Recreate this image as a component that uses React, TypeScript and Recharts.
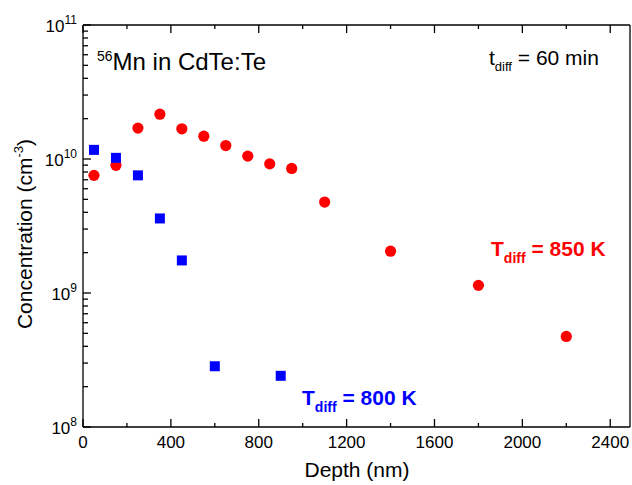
import React from 'react'
import { ScatterChart, Scatter, XAxis, YAxis } from 'recharts'

// depth (nm) and concentration (cm^-3)
const DEPTH_850 = [50, 150, 250, 350, 450, 550, 650, 750, 850, 950, 1100, 1400, 1800, 2200]
const CONC_850 = [7.55e9, 8.97e9, 1.7e10, 2.16e10, 1.68e10, 1.48e10, 1.26e10, 1.05e10, 9.2e9, 8.5e9, 4.77e9, 2.05e9, 1.14e9, 4.74e8]

const DEPTH_800 = [50, 150, 250, 350, 450, 600, 900]
const CONC_800 = [1.17e10, 1.02e10, 7.55e9, 3.6e9, 1.75e9, 2.84e8, 2.41e8]

const X_TICKS = [0, 200, 400, 600, 800, 1000, 1200, 1400, 1600, 1800, 2000, 2200, 2400]
const DECADES = [8, 9, 10]
const Y_TICKS = [
  ...DECADES.flatMap((d) => [1, 2, 3, 4, 5, 6, 7, 8, 9].map((m) => m * Math.pow(10, d))),
  1e11,
]

const FONT = '"Liberation Sans", Arial, Helvetica, sans-serif'
const RED = '#ff0000'
const BLUE = '#0000ff'

const data850 = DEPTH_850.map((x, i) => ({ x, y: CONC_850[i] }))
const data800 = DEPTH_800.map((x, i) => ({ x, y: CONC_800[i] }))

const isDecade = (v: number) => {
  const l = Math.log10(v)
  return Math.abs(l - Math.round(l)) < 1e-6
}

const BottomTick = (props: any) => {
  const { x, y, payload } = props
  const major = payload.value % 400 === 0
  return (
    <g>
      <line x1={x} x2={x} y1={y} y2={y - (major ? 8 : 4)} stroke="#000" strokeWidth={1.3} />
      {major && (
        <text x={x} y={y + 21} textAnchor="middle" fontSize={17} fontFamily={FONT} fill="#000">
          {payload.value}
        </text>
      )}
    </g>
  )
}

const TopTick = (props: any) => {
  const { x, y, payload } = props
  const major = payload.value % 400 === 0
  return <line x1={x} x2={x} y1={y} y2={y + (major ? 8 : 4)} stroke="#000" strokeWidth={1.3} />
}

const LeftTick = (props: any) => {
  const { x, y, payload } = props
  const major = isDecade(payload.value)
  const exp = Math.round(Math.log10(payload.value))
  return (
    <g>
      <line x1={x} x2={x + (major ? 8 : 5)} y1={y} y2={y} stroke="#000" strokeWidth={1.3} />
      {major && (
        <text x={x - 6} y={y + 7} textAnchor="end" fontSize={17} fontFamily={FONT} fill="#000">
          10
          <tspan dy={-8} fontSize={12}>
            {exp}
          </tspan>
        </text>
      )}
    </g>
  )
}

const Dot = (props: any) => <circle cx={props.cx} cy={props.cy} r={5.6} fill={RED} />
const Square = (props: any) => (
  <rect x={props.cx - 5} y={props.cy - 5} width={10} height={10} fill={BLUE} />
)

export default function App() {
  return (
    <div style={{ position: 'absolute', left: 0, top: 0, width: 632, height: 485, background: '#fff' }}>
      <ScatterChart width={632} height={485} margin={{ top: 15, right: 0, bottom: 28, left: 23 }}>
        <XAxis
          type="number"
          dataKey="x"
          domain={[0, 2490]}
          ticks={X_TICKS}
          interval={0}
          allowDataOverflow
          tickSize={0}
          tickMargin={0}
          tick={<BottomTick />}
          axisLine={{ stroke: '#000', strokeWidth: 1.3 }}
          height={30}
        />
        <XAxis
          xAxisId="top"
          orientation="top"
          type="number"
          dataKey="x"
          domain={[0, 2490]}
          ticks={X_TICKS}
          interval={0}
          allowDataOverflow
          tickSize={0}
          tickMargin={0}
          tick={<TopTick />}
          axisLine={{ stroke: '#000', strokeWidth: 1.3 }}
          height={10}
        />
        <YAxis
          type="number"
          dataKey="y"
          scale="log"
          domain={[1e8, 1e11]}
          ticks={Y_TICKS}
          interval={0}
          allowDataOverflow
          tickSize={0}
          tickMargin={0}
          tick={<LeftTick />}
          axisLine={{ stroke: '#000', strokeWidth: 1.3 }}
          width={60}
        />
        <YAxis
          yAxisId="right"
          orientation="right"
          type="number"
          domain={[0, 1]}
          tick={false}
          tickLine={false}
          axisLine={{ stroke: '#000', strokeWidth: 1.3 }}
          width={2}
        />
        <Scatter data={data850} fill={RED} shape={<Dot />} isAnimationActive={false} />
        <Scatter data={data800} fill={BLUE} shape={<Square />} isAnimationActive={false} />
      </ScatterChart>
      <svg
        width={632}
        height={485}
        style={{ position: 'absolute', left: 0, top: 0, pointerEvents: 'none' }}
        fontFamily={FONT}
      >
        <text x={357} y={477} textAnchor="middle" fontSize={21} fill="#000">
          Depth (nm)
        </text>
        <text transform="translate(32,234) rotate(-90)" textAnchor="middle" fontSize={21} fill="#000">
          Concentration (cm
          <tspan dy={-9} fontSize={13}>
            -3
          </tspan>
          <tspan dy={9}>)</tspan>
        </text>
        <text x={97} y={70} fontSize={24} fill="#000">
          <tspan dy={-9} fontSize={14}>
            56
          </tspan>
          <tspan dy={9}>Mn in CdTe:Te</tspan>
        </text>
        <text x={489} y={65} fontSize={21} fill="#000">
          t
          <tspan dy={6} fontSize={13}>
            diff
          </tspan>
          <tspan dy={-6}> = 60 min</tspan>
        </text>
        <text x={491} y={256} fontSize={21} fontWeight="bold" fill={RED}>
          T
          <tspan dy={7} fontSize={14}>
            diff
          </tspan>
          <tspan dy={-7}> = 850 K</tspan>
        </text>
        <text x={302} y={405} fontSize={21} fontWeight="bold" fill={BLUE}>
          T
          <tspan dy={7} fontSize={14}>
            diff
          </tspan>
          <tspan dy={-7}> = 800 K</tspan>
        </text>
      </svg>
    </div>
  )
}
